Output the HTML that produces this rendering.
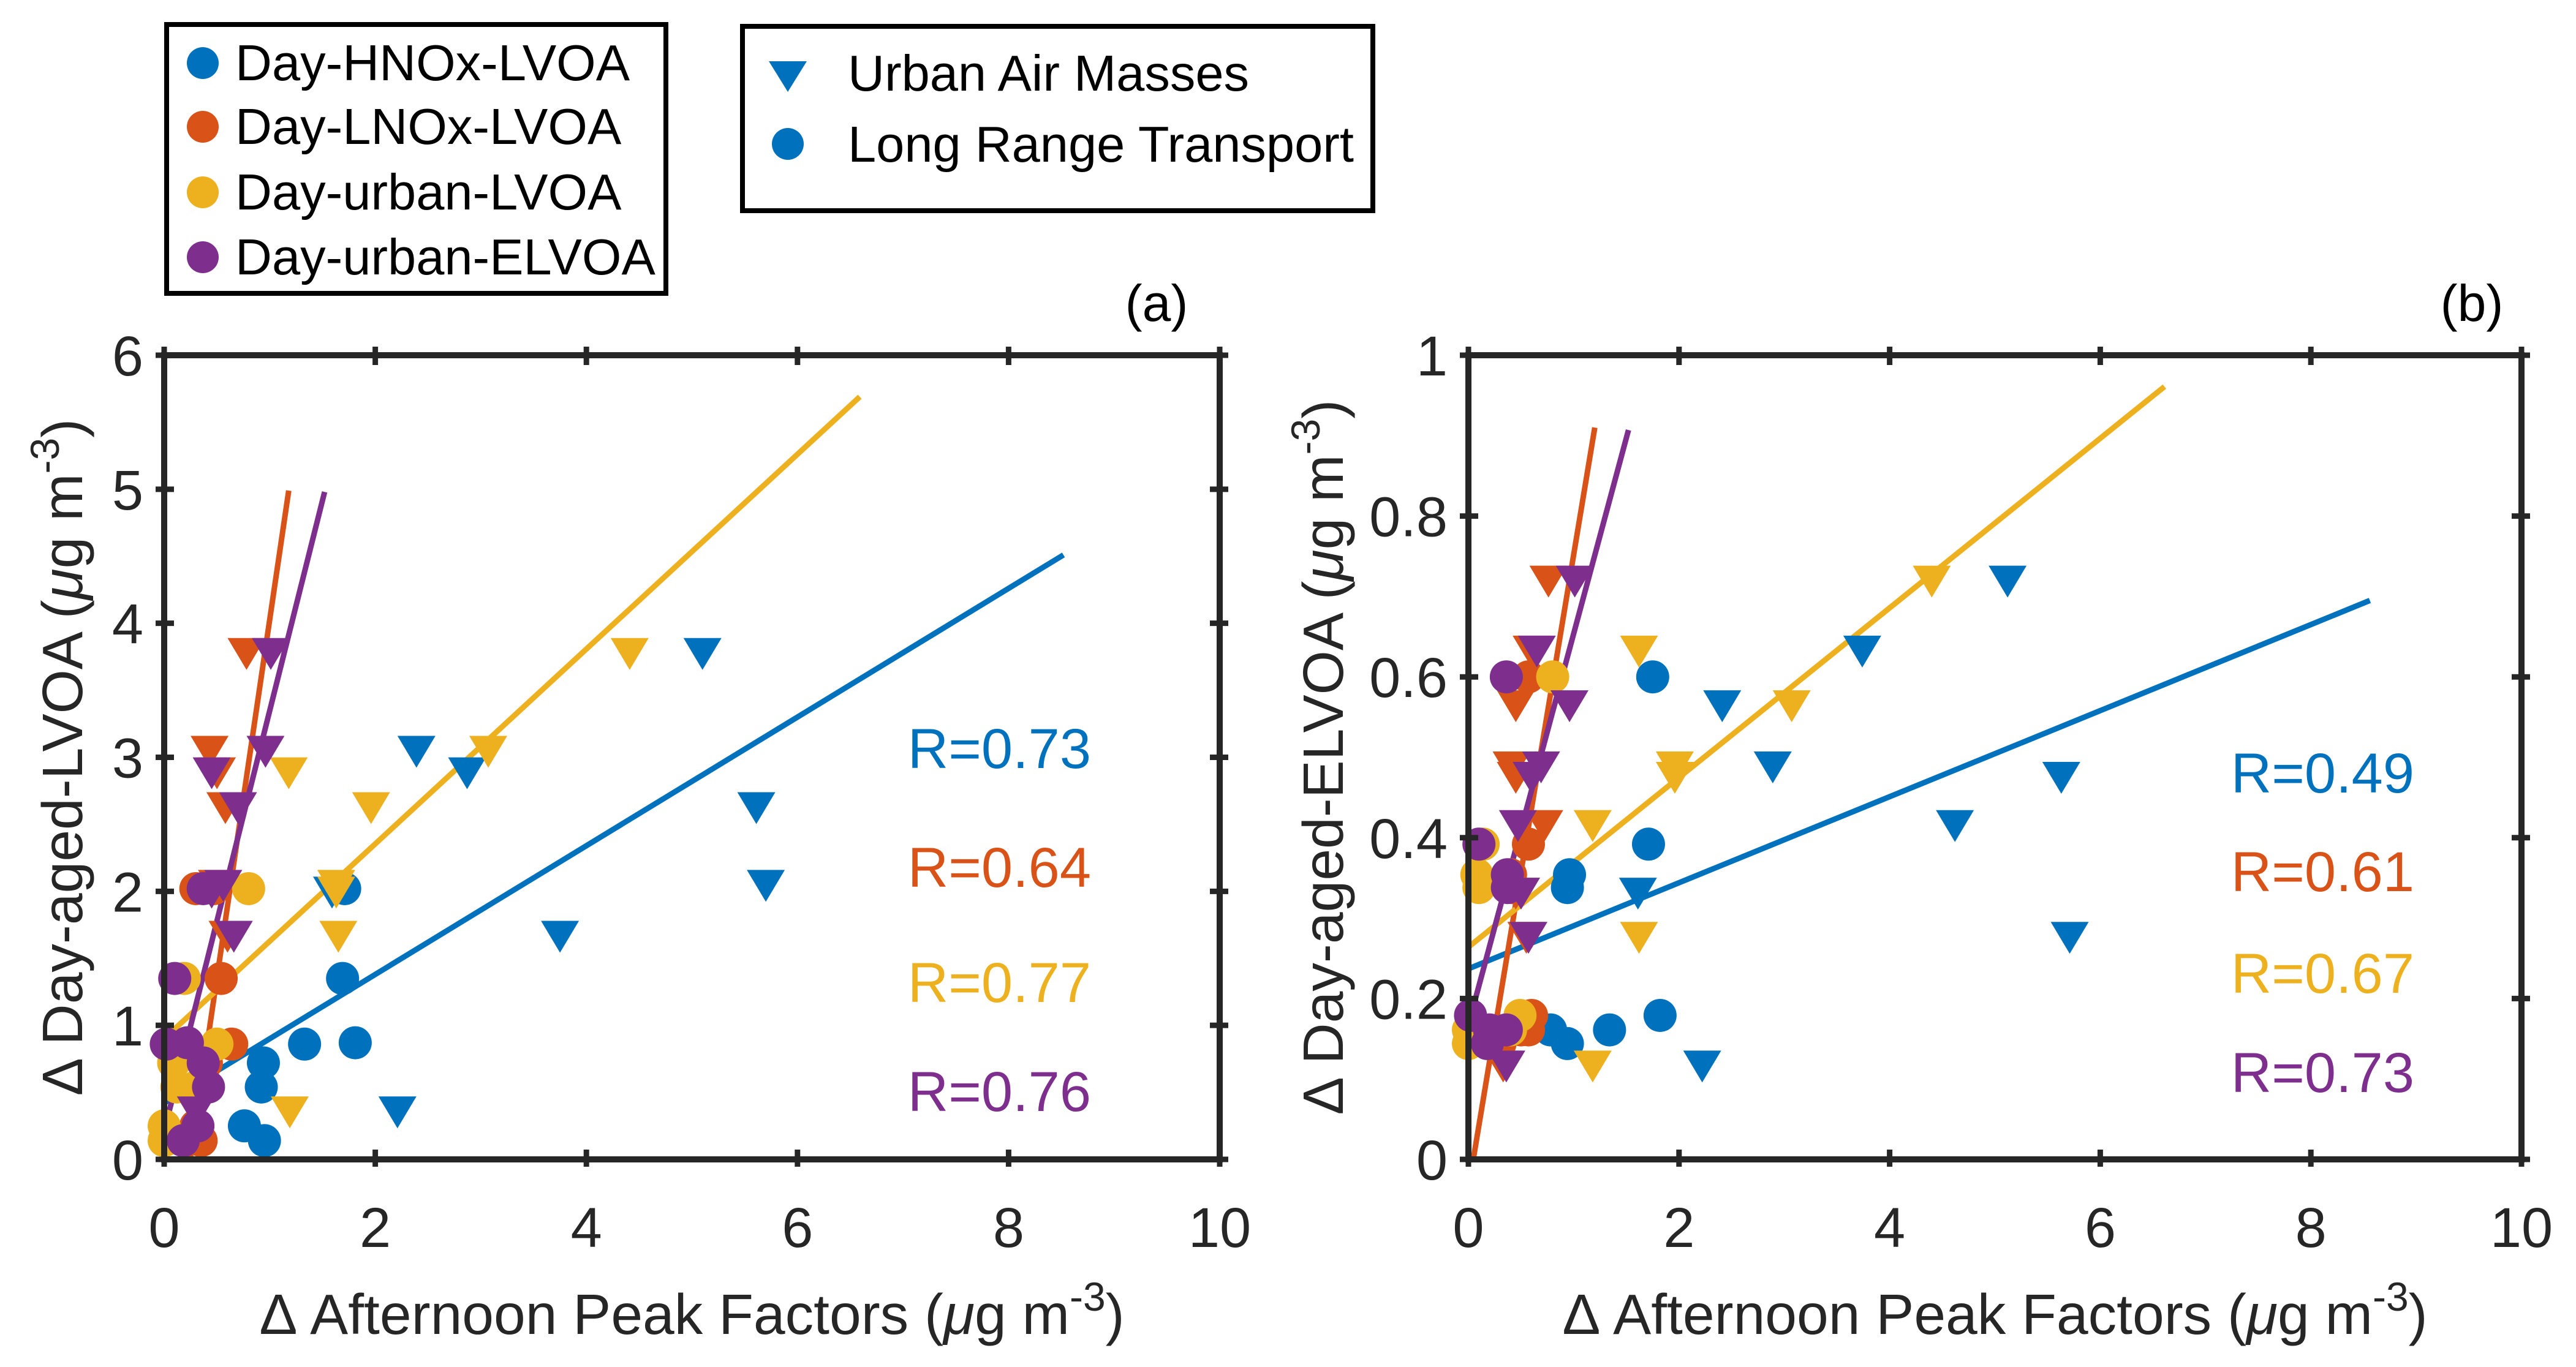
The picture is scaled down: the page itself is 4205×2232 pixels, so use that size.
<!DOCTYPE html>
<html><head><meta charset="utf-8"><style>
html,body{margin:0;padding:0;background:#fff;}
svg{display:block;font-family:"Liberation Sans",sans-serif;}
</style></head><body>
<svg id="chart" width="4205" height="2232" viewBox="0 0 4205 2232" xmlns="http://www.w3.org/2000/svg">
<rect width="4205" height="2232" fill="#fff"/>
<g>
<rect x="272" y="40" width="815" height="439" fill="#fff" stroke="#000" stroke-width="8"/>
<circle cx="331" cy="103" r="26" fill="#0072BD"/><text x="384" y="131" font-size="83">Day-HNOx-LVOA</text>
<circle cx="331" cy="207" r="26" fill="#D95319"/><text x="384" y="235" font-size="83">Day-LNOx-LVOA</text>
<circle cx="331" cy="314" r="26" fill="#EDB120"/><text x="384" y="342" font-size="83">Day-urban-LVOA</text>
<circle cx="331" cy="420" r="26" fill="#7E2F8E"/><text x="384" y="448" font-size="83">Day-urban-ELVOA</text>
</g>
<g>
<rect x="1212" y="43" width="1029" height="301" fill="#fff" stroke="#000" stroke-width="8"/>
<polygon points="1255,100 1317,100 1286,150" fill="#0072BD"/><text x="1384" y="148" font-size="83">Urban Air Masses</text>
<circle cx="1286" cy="235" r="26" fill="#0072BD"/><text x="1384" y="264" font-size="83">Long Range Transport</text>
</g>
<g id="pa"></g>
<g id="pb"></g>
</svg>
<script>
const colors = ["#0072BD","#D95319","#EDB120","#7E2F8E"];
// Panel (a)
const aTriY = [3.78,3.05,2.89,2.63,2.05,2.0,1.67,0.36];
const aCirY = [2.02,1.35,0.86,0.72,0.54,0.25,0.14];
const aTriX = [
 [5.10,2.39,2.87,5.61,5.70,1.59,3.75,2.21],
 [0.78,0.43,0.50,0.58,0.50,0.45,0.60,0.30],
 [4.41,3.07,1.18,1.96,1.63,1.63,1.65,1.19],
 [1.01,0.96,0.45,0.70,0.56,0.45,0.66,0.30]];
const aCirX = [
 [1.71,1.69,1.33,0.94,0.92,0.76,0.95],
 [0.47,0.54,0.64,0.40,0.35,0.30,0.35],
 [0.80,0.19,0.50,0.09,0.12,0.00,0.00],
 [0.37,0.10,0.02,0.37,0.42,0.32,0.18]];
const aExtraCirX = [[1.81],[0.30],[0.30],[0.22]];
const aExtraCirY = [[0.87],[2.02],[0.54],[0.87]];
const aLines = [[0,0.42,8.52,4.51],[0.25,0.02,1.18,4.99],[0.04,0.93,6.59,5.69],[0,0.21,1.52,4.98]];
const aR = ["R=0.73","R=0.64","R=0.77","R=0.76"];
const aYTicks = ["0","1","2","3","4","5","6"];
// Panel (b)
const bTriY = [0.72,0.633,0.565,0.489,0.476,0.416,0.332,0.277,0.117];
const bCirY = [0.60,0.392,0.354,0.338,0.179,0.161,0.144,0.161];
const bTriX = [
 [5.12,3.74,2.41,2.89,5.63,4.62,1.61,5.71,2.22],
 [0.76,0.60,0.45,0.41,0.45,0.72,0.45,0.55,0.33],
 [4.40,1.62,3.07,1.96,1.96,1.18,0.50,1.62,1.18],
 [1.01,0.65,0.96,0.69,0.60,0.47,0.50,0.57,0.36]];
const bCirX = [
 [1.75,1.71,0.96,0.94,1.82,1.34,0.94,0.78],
 [0.57,0.57,0.40,0.41,0.60,0.57,0.30,0.50],
 [0.80,0.14,0.08,0.10,0.49,0.00,0.00,0.40],
 [0.36,0.10,0.37,0.37,0.02,0.36,0.18,0.20]];
const bLines = [[0,0.237,8.56,0.695],[0.05,0.003,1.2,0.91],[0,0.264,6.61,0.961],[0.02,0.177,1.52,0.907]];
const bR = ["R=0.49","R=0.61","R=0.67","R=0.73"];
const bYTicks = ["0","0.2","0.4","0.6","0.8","1"];
const xTicks = ["0","2","4","6","8","10"];

const NS="http://www.w3.org/2000/svg";
function mk(p,tag,attrs,txt){const e=document.createElementNS(NS,tag);for(const k in attrs)e.setAttribute(k,attrs[k]);if(txt!==undefined)e.textContent=txt;p.appendChild(e);return e;}

function panel(g,cfg){
 const L=cfg.left,R=cfg.right,T=580,B=1893;
 const sx=v=>L+(v/10)*(R-L);
 const sy=v=>B-(v/cfg.ymax)*(B-T);
 cfg.lines.forEach((ln,i)=>{
  const l=mk(g,'line',{x1:sx(ln[0]),y1:sy(ln[1]),x2:sx(ln[2]),y2:sy(ln[3]),stroke:colors[i],'stroke-width':9});
  
  
 });
 for(let i=0;i<4;i++){
  cfg.triX[i].forEach((xv,j)=>{
   const cx=sx(xv),cy=sy(cfg.triY[j]);
   const t=mk(g,'polygon',{points:`${cx-31},${cy-24} ${cx+31},${cy-24} ${cx},${cy+28}`,fill:colors[i]});
   
   
  });
  cfg.cirX[i].forEach((xv,j)=>{
   const c=mk(g,'circle',{cx:sx(xv),cy:sy(cfg.cirY[j]),r:27,fill:colors[i]});
   
   
  });
  if(cfg.exX){cfg.exX[i].forEach((xv,j)=>{
   const c=mk(g,'circle',{cx:sx(xv),cy:sy(cfg.exY[i][j]),r:27,fill:colors[i]});
   
   
  });}
 }
 const box=mk(g,'rect',{x:L,y:T,width:R-L,height:B-T,fill:'none',stroke:'#262626','stroke-width':10});
 
 
 xTicks.forEach((lab,k)=>{
  const x=sx(k*2);
  mk(g,'line',{x1:x,y1:B-16,x2:x,y2:B+12,stroke:'#262626','stroke-width':9});
  mk(g,'line',{x1:x,y1:T-14,x2:x,y2:T+16,stroke:'#262626','stroke-width':9});
  const t=mk(g,'text',{x:x,y:2036,'font-size':92,'text-anchor':'middle',fill:'#262626'},lab);
  
  
 });
 cfg.yTicks.forEach((lab,k)=>{
  const y=sy(k*cfg.ystep);
  mk(g,'line',{x1:L-14,y1:y,x2:L+16,y2:y,stroke:'#262626','stroke-width':9});
  mk(g,'line',{x1:R-16,y1:y,x2:R+14,y2:y,stroke:'#262626','stroke-width':9});
  const t=mk(g,'text',{x:L-34,y:y+33,'font-size':92,'text-anchor':'end',fill:'#262626'},lab);
  
  
 });
 cfg.rs.forEach((s,i)=>{
  const t=mk(g,'text',{x:cfg.rx,y:cfg.ry[i]+32,'font-size':92,'text-anchor':'end',fill:colors[i]},s);
  
  
 });
 const pl=mk(g,'text',{x:cfg.plx,y:524,'font-size':84,'text-anchor':'middle',fill:'#000'},cfg.pl);
 
 
 const xt=mk(g,'text',{x:(L+R)/2,y:2178,'font-size':93,'text-anchor':'middle',fill:'#262626'});
 
 
 xt.innerHTML='Δ Afternoon Peak Factors (<tspan font-style="italic">μ</tspan>g m<tspan dy="-38" font-size="66">-3</tspan><tspan dy="38">)</tspan>';
 const yt=mk(g,'text',{x:0,y:0,'font-size':93,'text-anchor':'middle',fill:'#262626',transform:`translate(${cfg.ytx},${(T+B)/2}) rotate(-90)`});
 
 
 yt.innerHTML=cfg.yt+' (<tspan font-style="italic">μ</tspan>g m<tspan dy="-38" font-size="66">-3</tspan><tspan dy="38">)</tspan>';
}
panel(document.getElementById('pa'),{left:268,right:1991,ymax:6,ystep:1,yTicks:aYTicks,triX:aTriX,triY:aTriY,cirX:aCirX,cirY:aCirY,exX:aExtraCirX,exY:aExtraCirY,lines:aLines,rs:aR,rx:1781,ry:[1222,1416,1604,1782],plx:1888,pl:'(a)',ytx:134,yt:'Δ Day-aged-LVOA'});
panel(document.getElementById('pb'),{left:2397,right:4116,ymax:1,ystep:0.2,yTicks:bYTicks,triX:bTriX,triY:bTriY,cirX:bCirX,cirY:bCirY,lines:bLines,rs:bR,rx:3941,ry:[1262,1423,1589,1751],plx:4035,pl:'(b)',ytx:2192,yt:'Δ Day-aged-ELVOA'});
</script>
</body></html>
